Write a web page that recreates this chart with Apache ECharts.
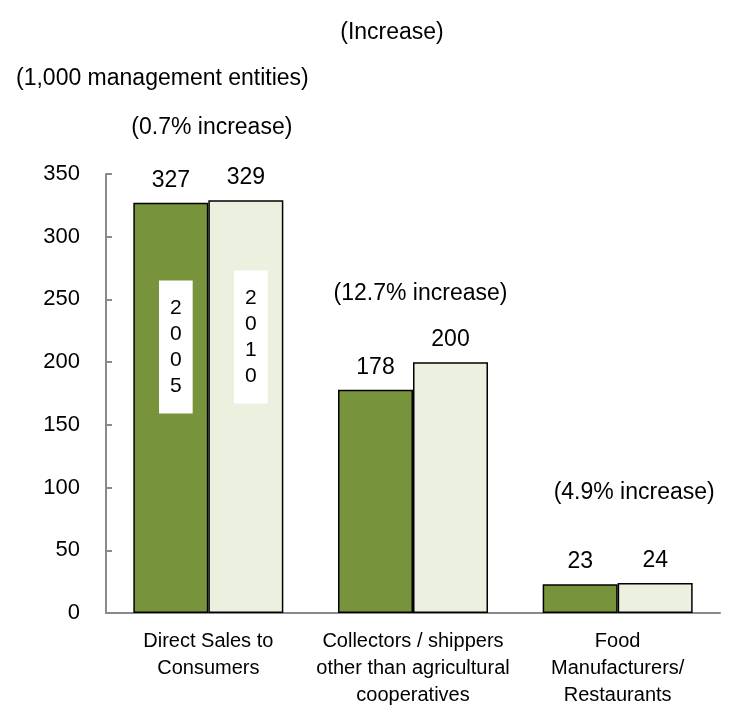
<!DOCTYPE html>
<html>
<head>
<meta charset="utf-8">
<script src="https://cdn.jsdelivr.net/npm/echarts@6/dist/echarts.min.js"></script>
<style>
  html, body { margin: 0; padding: 0; background: #fff; }
  #chart { width: 732px; height: 715px; }
</style>
</head>
<body>
<div id="chart"></div>
<script>
// data
const categories = ['Direct Sales to\nConsumers', 'Collectors / shippers\nother than agricultural\ncooperatives', 'Food\nManufacturers/\nRestaurants'];
const years = ['2005', '2010'];
const values2005 = [327, 178, 23];
const values2010 = [329, 200, 24];
const increases = ['0.7%', '12.7%', '4.9%'];
const yTicks = [0, 50, 100, 150, 200, 250, 300, 350];

const font = 'Liberation Sans, Arial, sans-serif';

const chart = echarts.init(document.getElementById('chart'));

// anchors for the "(x% increase)" texts (in data units, on the 2005 bars)
const incY = [350, 255, 96];
const incOffset = [[41, -46], [45, 0], [54, 0]];

// vertical year label inside the first pair of bars
function yearBox(year, yVal) {
  return {
    coord: [categories[0], yVal],
    symbol: 'rect',
    symbolSize: 0,
    label: {
      show: true,
      position: 'inside',
      formatter: year.split('').join('\n'),
      color: '#000',
      fontFamily: font,
      fontSize: 21,
      lineHeight: 26,
      backgroundColor: '#fff',
      padding: [16, 11, 13, 11],
      offset: [5, 0]
    }
  };
}

const option = {
  animation: false,
  grid: { left: 106, right: 12, top: 174, bottom: 102 },
  title: [
    { text: '(Increase)', left: 387, top: 16, textAlign: 'center',
      textStyle: { fontFamily: font, fontSize: 23, fontWeight: 'normal', color: '#000' } },
    { text: '(1,000 management entities)', left: 11, top: 62,
      textStyle: { fontFamily: font, fontSize: 23, fontWeight: 'normal', color: '#000' } }
  ],
  xAxis: {
    type: 'category',
    data: categories,
    axisLine: { lineStyle: { color: '#8a8a8a', width: 2 } },
    axisTick: { show: false },
    axisLabel: { fontFamily: font, fontSize: 20, lineHeight: 27, color: '#000', margin: 15, interval: 0 }
  },
  yAxis: {
    type: 'value',
    min: yTicks[0],
    max: yTicks[yTicks.length - 1],
    interval: 50,
    splitLine: { show: false },
    axisLine: { show: true, lineStyle: { color: '#8a8a8a', width: 2 } },
    axisTick: { show: true, inside: true, length: 6, lineStyle: { color: '#8a8a8a', width: 2 } },
    axisLabel: { fontFamily: font, fontSize: 22, color: '#000', margin: 26 }
  },
  series: [
    {
      name: years[0],
      type: 'bar',
      data: values2005,
      barWidth: 75,
      barGap: '0%',
      barCategoryGap: '27%',
      itemStyle: { color: '#77933c', borderColor: '#000', borderWidth: 1.5 },
      label: { show: true, position: 'top', distance: 11, fontFamily: font, fontSize: 23, color: '#000' },
      markPoint: {
        silent: true,
        data: [yearBox(years[0], 212)].concat(increases.map((p, i) => ({
          coord: [categories[i], incY[i]],
          symbolSize: 0,
          label: {
            show: true, position: 'inside', formatter: '(' + p + ' increase)',
            fontFamily: font, fontSize: 23, color: '#000', offset: incOffset[i]
          }
        })))
      }
    },
    {
      name: years[1],
      type: 'bar',
      data: values2010,
      barWidth: 75,
      barGap: '0%',
      barCategoryGap: '27%',
      itemStyle: { color: '#ebf1de', borderColor: '#000', borderWidth: 1.5 },
      label: { show: true, position: 'top', distance: 11, fontFamily: font, fontSize: 23, color: '#000' },
      markPoint: {
        silent: true,
        data: [yearBox(years[1], 220)]
      }
    }
  ]
};

chart.setOption(option);
</script>
</body>
</html>
